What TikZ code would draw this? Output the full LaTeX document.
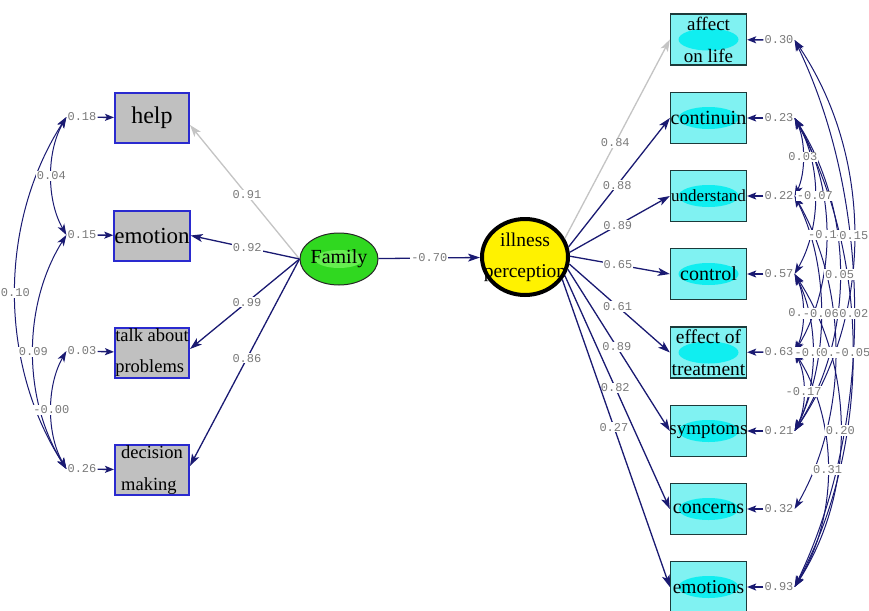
\documentclass[tikz,border=0pt]{standalone}
\usepackage{fontspec}
\setmainfont{Liberation Serif}
\newfontfamily\numfont{Liberation Mono}
\usetikzlibrary{arrows.meta,shapes.geometric}
\definecolor{navy}{HTML}{1A1A72}
\definecolor{lgray}{HTML}{C4C4C4}
\definecolor{boxgray}{HTML}{C0C0C0}
\definecolor{boxblue}{HTML}{2A2ACF}
\definecolor{cyanbg}{HTML}{80F2F2}
\definecolor{cyanfg}{HTML}{10EEF0}
\definecolor{tealdark}{HTML}{1C3A3A}
\definecolor{famgreen}{HTML}{30D820}
\definecolor{famlight}{HTML}{66EE50}
\definecolor{numgray}{HTML}{7A7A7A}
\tikzset{
 lbox/.style={draw=boxblue, line width=2pt, fill=boxgray, minimum width=74pt, minimum height=50pt, inner sep=0pt, align=left},
 rbox/.style={draw=tealdark, line width=1.3pt, fill=cyanbg, minimum width=76pt, minimum height=51pt, inner sep=0pt, align=center,
   path picture={\fill[cyanfg] (path picture bounding box.center) ellipse [x radius=30pt, y radius=11pt];}},
 num/.style={font=\numfont\fontsize{12}{12}\selectfont, text=numgray, fill=white, inner sep=1pt},
 ldarr/.style={draw=navy, line width=1.3pt, -{Stealth[length=12pt,width=8pt,inset=3pt]}},
 gldarr/.style={draw=lgray, line width=1.3pt, -{Stealth[length=12pt,width=8pt,inset=3pt]}},
 errarr/.style={draw=navy, line width=1.4pt, -{Stealth[length=9pt,width=7pt,inset=2pt]}},
 covarr/.style={draw=navy, line width=1pt, {Stealth[length=11pt,width=7.5pt,inset=3pt]}-{Stealth[length=11pt,width=7.5pt,inset=3pt]}},
}
\begin{document}
\begin{tikzpicture}[x=1pt,y=-1pt]
\fill[white] (0,0) rectangle (869,610);
\useasboundingbox (0,0) rectangle (869,610);

% left boxes
\node[lbox, font=\fontsize{24}{24}\selectfont] (help) at (152,118) {help};
\node[lbox, font=\fontsize{23}{23}\selectfont] (emo) at (152,235.5) {emotion};
\node[lbox, font=\fontsize{18.5}{31}\selectfont] (talk) at (152,353) {talk about\\problems};
\node[lbox, font=\fontsize{18.5}{32}\selectfont] (dec) at (152,470) {decision\\making};

% latent variables
\node[ellipse, draw=black!85, line width=1pt, fill=famgreen, minimum width=78pt, minimum height=52pt, inner sep=0pt,
  path picture={\fill[famlight] (path picture bounding box.center) ellipse [x radius=24pt, y radius=9pt];},
  font=\fontsize{20}{20}\selectfont] (fam) at (339,259) {\makebox[0pt]{Family}};
\node[ellipse, draw=black, line width=4pt, fill=yellow, minimum width=86pt, minimum height=76pt, inner sep=0pt,
  align=center, font=\fontsize{19.5}{31}\selectfont] (ill) at (525,257) {\makebox[0pt]{illness}\\\makebox[0pt]{perception}};

% right boxes
\node[rbox, font=\fontsize{19}{32}\selectfont] (aff) at (708.5,39.5) {affect\\on life};
\node[rbox, font=\fontsize{20}{20}\selectfont] (cont) at (708.5,118) {\makebox[0pt]{continuin}};
\node[rbox, font=\fontsize{17}{17}\selectfont] (und) at (708.5,196) {\makebox[0pt]{understand}};
\node[rbox, font=\fontsize{20}{20}\selectfont] (ctrl) at (708.5,274) {control};
\node[rbox, font=\fontsize{19.5}{32}\selectfont] (eff) at (708.5,352.5) {\makebox[0pt]{effect of}\\\makebox[0pt]{treatment}};
\node[rbox, font=\fontsize{19}{19}\selectfont] (sym) at (708.5,431) {\makebox[0pt]{symptoms}};
\node[rbox, font=\fontsize{20}{20}\selectfont] (conc) at (708.5,509) {\makebox[0pt]{concerns}};
\node[rbox, font=\fontsize{19.5}{19.5}\selectfont] (emos) at (708.5,587) {\makebox[0pt]{emotions}};

% error variances left
\node[num] (eL1) at (82,117) {0.18};
\node[num] (eL2) at (82,235) {0.15};
\node[num] (eL3) at (82,351) {0.03};
\node[num] (eL4) at (82,469) {0.26};
\draw[errarr] (eL1) -- (help);
\draw[errarr] (eL2) -- (emo);
\draw[errarr] (eL3) -- (talk);
\draw[errarr] (eL4) -- (dec);

% error variances right
\node[num] (eR1) at (779,40) {0.30};
\node[num] (eR2) at (779,118) {0.23};
\node[num] (eR3) at (779,196) {0.22};
\node[num] (eR4) at (779,274) {0.57};
\node[num] (eR5) at (779,352) {0.63};
\node[num] (eR6) at (779,431) {0.21};
\node[num] (eR7) at (779,509) {0.32};
\node[num] (eR8) at (779,587) {0.93};
\draw[errarr] (eR1) -- (aff);
\draw[errarr] (eR2) -- (cont);
\draw[errarr] (eR3) -- (und);
\draw[errarr] (eR4) -- (ctrl);
\draw[errarr] (eR5) -- (eff);
\draw[errarr] (eR6) -- (sym);
\draw[errarr] (eR7) -- (conc);
\draw[errarr] (eR8) -- (emos);

% loadings Family
\draw[gldarr] (fam.west) -- ([yshift=-7pt]help.east) node[num,pos=.48] (f1) {0.91};
\draw[ldarr] (fam.west) -- (emo.east) node[num,pos=.48] (f2) {0.92};
\draw[ldarr] (fam.west) -- ([yshift=4pt]talk.east) node[num,pos=.48] (f3) {0.99};
\draw[ldarr] (fam.west) -- ([yshift=4pt]dec.east) node[num,pos=.48] (f4) {0.86};

% structural path
\draw[ldarr] (fam) -- (ill) node[num,pos=.5] (p1) {-0.70};

% loadings illness perception
\draw[gldarr] (ill.25) -- (aff.west) node[num,pos=.48] (g1) {0.84};
\draw[ldarr] (ill.13) -- (cont.west) node[num,pos=.48] (g2) {0.88};
\draw[ldarr] (ill.6) -- (und.west) node[num,pos=.48] (g3) {0.89};
\draw[ldarr] (ill.1) -- (ctrl.west) node[num,pos=.48] (g4) {0.65};
\draw[ldarr] (ill.-9) -- (eff.west) node[num,pos=.48] (g5) {0.61};
\draw[ldarr] (ill.-16) -- (sym.west) node[num,pos=.48] (g6) {0.89};
\draw[ldarr] (ill.-25) -- (conc.west) node[num,pos=.48] (g7) {0.82};
\draw[ldarr] (ill.-31) -- (emos.west) node[num,pos=.48] (g8) {0.27};

% covariances left
\draw[covarr] (eL1.west) .. controls +(-20,35) and +(-20,-35) .. (eL2.west) coordinate[pos=.5] (m1);
\draw[covarr] (eL1.west) .. controls +(-68,106) and +(-68,-106) .. (eL4.west) coordinate[pos=.5] (m2);
\draw[covarr] (eL2.west) .. controls +(-44,70) and +(-44,-70) .. (eL4.west) coordinate[pos=.5] (m3);
\draw[covarr] (eL3.west) .. controls +(-20,35) and +(-20,-35) .. (eL4.west) coordinate[pos=.5] (m4);

% covariances right
\draw[covarr] (eR2.east) .. controls +(11,23) and +(11,-23) .. (eR3.east) coordinate[pos=.5] (n1);
\draw[covarr] (eR2.east) .. controls +(27,47) and +(27,-47) .. (eR4.east) coordinate[pos=.5] (n2);
\draw[covarr] (eR2.east) .. controls +(42,70) and +(42,-70) .. (eR5.east) coordinate[pos=.5] (n3);
\draw[covarr] (eR1.east) .. controls +(79,117) and +(79,-117) .. (eR6.east) coordinate[pos=.5] (n4);
\draw[covarr] (eR2.east) .. controls +(60,94) and +(60,-94) .. (eR6.east) coordinate[pos=.5] (n5);
\draw[covarr] (eR4.east) .. controls +(11,23) and +(11,-23) .. (eR5.east) coordinate[pos=.5] (n6);
\draw[covarr] (eR3.east) .. controls +(35,70) and +(35,-70) .. (eR6.east) coordinate[pos=.5] (n7);
\draw[covarr] (eR1.east) .. controls +(79,164) and +(79,-164) .. (eR8.east) coordinate[pos=.5] (n8);
\draw[covarr] (eR4.east) .. controls +(24,47) and +(24,-47) .. (eR6.east) coordinate[pos=.5] (n9);
\draw[covarr] (eR3.east) .. controls +(54,94) and +(54,-94) .. (eR7.east) coordinate[pos=.5] (n10);
\draw[covarr] (eR2.east) .. controls +(77,141) and +(77,-141) .. (eR8.east) coordinate[pos=.5] (n11);
\draw[covarr] (eR5.east) .. controls +(12,24) and +(12,-24) .. (eR6.east) coordinate[pos=.5] (n12);
\draw[covarr] (eR4.east) .. controls +(61,94) and +(61,-94) .. (eR8.east) coordinate[pos=.5] (n13);
\draw[covarr] (eR5.east) .. controls +(44,70) and +(44,-70) .. (eR8.east) coordinate[pos=.5] (n14);

% covariance labels
\node[num] (k1) at (m1) {0.04};
\node[num] (k2) at (m2) {0.10};
\node[num] (k3) at (m3) {0.09};
\node[num] (k4) at (m4) {-0.00};
\node[num] (q1) at (n1) {0.03};
\node[num] (q2) at (n2) {-0.07};
\node[num] (q3) at (n3) {-0.14};
\node[num] (q4) at (n4) {0.15};
\node[num] (q5) at (n5) {0.05};
\node[num] (q6) at (n6) {0.36};
\node[num] (q7) at (n7) {-0.06};
\node[num] (q8) at (n8) {0.02};
\node[num] (q9) at (n9) {-0.08};
\node[num] (q10) at (n10) {0.04};
\node[num] (q11) at (n11) {-0.05};
\node[num] (q12) at (n12) {-0.17};
\node[num] (q13) at (n13) {0.20};
\node[num] (q14) at (n14) {0.31};
\end{tikzpicture}
\end{document}
